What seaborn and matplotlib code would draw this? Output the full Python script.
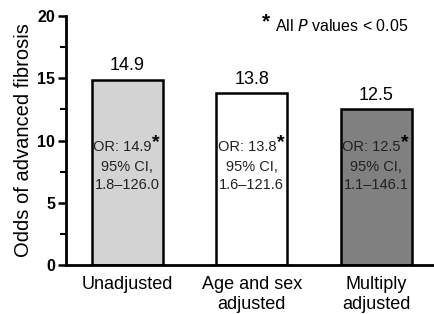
import matplotlib
matplotlib.use("Agg")
import matplotlib.pyplot as plt
import seaborn as sns
import pandas as pd
from matplotlib.ticker import MultipleLocator

# data
groups = ["Unadjusted", "Age and sex\nadjusted", "Multiply\nadjusted"]
odds = [14.9, 13.8, 12.5]
ci_text = ["1.8\u2013126.0", "1.6\u2013121.6", "1.1\u2013146.1"]
bar_colors = ["#d3d3d3", "#ffffff", "#808080"]

sns.set_style("ticks")
plt.rcParams["font.family"] = ["Liberation Sans", "DejaVu Sans"]
plt.rcParams["text.color"] = "black"
plt.rcParams["axes.labelcolor"] = "black"
plt.rcParams["xtick.color"] = "black"
plt.rcParams["ytick.color"] = "black"
plt.rcParams["axes.edgecolor"] = "black"

df = pd.DataFrame({"group": groups, "odds": odds})

fig = plt.figure(figsize=(4.35, 3.14), dpi=100)
ax = fig.add_axes([0.152, 0.156, 0.848, 0.793])

sns.barplot(data=df, x="group", y="odds", hue="group", palette=bar_colors,
            width=0.57, edgecolor="black", linewidth=1.8, saturation=1,
            legend=False, ax=ax)

ax.set_ylim(0, 20)
ax.set_xlim(-0.49, 2.47)
ax.yaxis.set_major_locator(MultipleLocator(5))
ax.yaxis.set_minor_locator(MultipleLocator(2.5))
ax.tick_params(axis="y", which="major", length=6, width=1.8, labelsize=11.5, pad=2)
ax.tick_params(axis="y", which="minor", length=4, width=1.5)
ax.tick_params(axis="x", length=0, labelsize=13, pad=8)
for lab in ax.get_yticklabels():
    lab.set_fontweight("bold")
for s in ["left", "bottom"]:
    ax.spines[s].set_linewidth(2)
sns.despine(ax=ax)
ax.set_xlabel("")
ax.set_ylabel("Odds of advanced fibrosis", fontsize=14.5, labelpad=3)

for i, (v, ci) in enumerate(zip(odds, ci_text)):
    ax.text(i, v + 0.45, f"{v:.1f}", ha="center", va="bottom", fontsize=13)
    t = ax.text(i - 0.04, 9.5, f"OR: {v:.1f}", ha="center", va="center",
                fontsize=10.5, color="#222222")
    ax.annotate("*", xy=(1, 1), xycoords=t, xytext=(0.3, 4), textcoords="offset points",
                ha="left", va="top", fontsize=14, fontweight="bold")
    ax.text(i, 7.9, "95% CI,", ha="center", va="center", fontsize=10.5, color="#222222")
    ax.text(i, 6.4, ci, ha="center", va="center", fontsize=10.5, color="#222222")

ax.text(1.08, 19.55, "*", ha="left", va="center", fontsize=15, fontweight="bold")
ax.text(1.19, 19.2, "All $\\mathit{P}$ values < 0.05", ha="left", va="center", fontsize=11.5)

fig.savefig("out.png", dpi=100)
